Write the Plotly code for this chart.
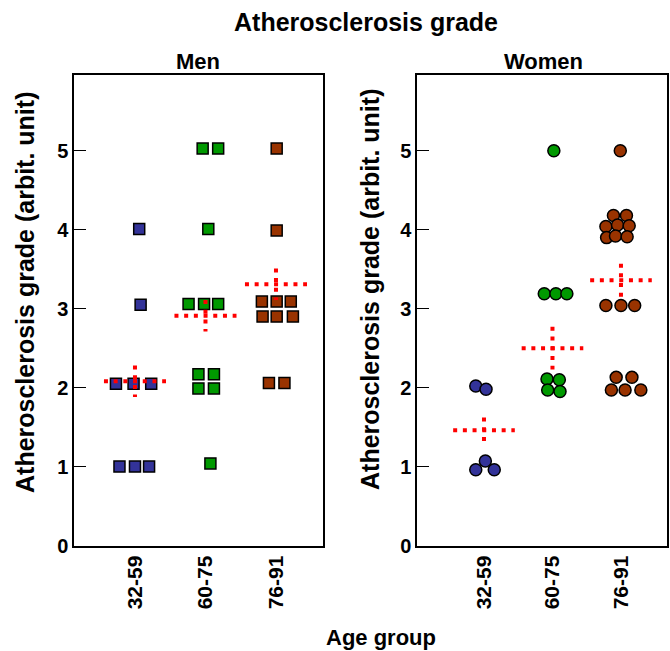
import plotly.graph_objects as go

W, H = 670, 651
HV = 640  # effective vertical extent observed in the rendered page

groups = ["32-59", "60-75", "76-91"]

# Men: grade values as read (swarm-displaced) and horizontal swarm offsets (category units)
men_y_g1 = [1.00, 1.00, 1.00, 2.05, 2.05, 2.05, 3.05, 4.01]
men_dx_g1 = [-0.22, 0.00, 0.20, -0.27, -0.02, 0.23, 0.08, 0.06]
men_y_g2 = [5.03, 5.03, 4.01, 3.06, 3.06, 3.06, 2.17, 2.17, 1.99, 1.99, 1.04]
men_dx_g2 = [-0.04, 0.18, 0.04, -0.24, -0.02, 0.18, -0.10, 0.12, -0.10, 0.12, 0.07]
men_y_g3 = [5.03, 3.99, 3.09, 3.09, 3.09, 2.90, 2.90, 2.90, 2.06, 2.06]
men_dx_g3 = [0.01, 0.01, -0.20, 0.01, 0.21, -0.19, 0.01, 0.24, -0.10, 0.12]

# Women
women_y_g1 = [2.02, 1.98, 1.07, 0.96, 0.96]
women_dx_g1 = [-0.12, 0.03, 0.02, -0.12, 0.15]
women_y_g2 = [5.00, 3.19, 3.19, 3.19, 2.11, 2.10, 1.97, 1.95]
women_dx_g2 = [0.02, -0.12, 0.05, 0.21, -0.08, 0.10, -0.07, 0.11]
women_y_g3 = [5.00, 4.18, 4.18, 4.04, 4.06, 4.05, 3.90, 3.92, 3.91,
              3.04, 3.04, 3.04, 2.13, 2.13, 1.97, 1.97, 1.97]
women_dx_g3 = [-0.01, -0.11, 0.08, -0.22, -0.05, 0.12, -0.21, -0.08, 0.09,
               -0.22, 0.00, 0.20, -0.07, 0.16, -0.14, 0.06, 0.29]

# Group means and error bars (vertical half-length of the cross)
men_means = [2.08, 2.91, 3.31]
men_err = [0.20, 0.20, 0.20]
women_means = [1.46, 2.50, 3.36]
women_err = [0.16, 0.27, 0.21]

colors = ["#333399", "#009900", "#993300"]
FONT = "Liberation Sans, Arial, sans-serif"
RED_DASH = "4px,5.7px"


def px(x):
    return x / W


def py(y):
    return 1 - y / HV


fig = go.Figure()

men_sets = [(men_y_g1, men_dx_g1), (men_y_g2, men_dx_g2), (men_y_g3, men_dx_g3)]
women_sets = [(women_y_g1, women_dx_g1), (women_y_g2, women_dx_g2), (women_y_g3, women_dx_g3)]

for gi, (ys, dxs) in enumerate(men_sets):
    fig.add_trace(go.Scatter(
        x=[gi + 1 + d for d in dxs], y=ys, mode="markers",
        marker=dict(symbol="square", size=11, color=colors[gi],
                    line=dict(color="black", width=1.5)),
        xaxis="x", yaxis="y", showlegend=False, hoverinfo="skip"))

for gi, (ys, dxs) in enumerate(women_sets):
    fig.add_trace(go.Scatter(
        x=[gi + 1 + d for d in dxs], y=ys, mode="markers",
        marker=dict(symbol="circle", size=12, color=colors[gi],
                    line=dict(color="black", width=1.5)),
        xaxis="x2", yaxis="y2", showlegend=False, hoverinfo="skip"))


def add_crosses(means, errs, xa, ya, hw):
    for gi, (m, e) in enumerate(zip(means, errs)):
        c = gi + 1
        fig.add_trace(go.Scatter(
            x=[c - hw, c + hw], y=[m, m], mode="lines",
            line=dict(color="#ff0000", width=4, dash=RED_DASH),
            xaxis=xa, yaxis=ya, showlegend=False, hoverinfo="skip"))
        fig.add_trace(go.Scatter(
            x=[c, c], y=[m + e, m - e], mode="lines",
            line=dict(color="#ff0000", width=4, dash=RED_DASH),
            xaxis=xa, yaxis=ya, showlegend=False, hoverinfo="skip"))


add_crosses(men_means, men_err, "x", "y", 0.44)
add_crosses(women_means, women_err, "x2", "y2", 0.45)

ydom = [py(545.5), py(75)]
common_x = dict(showgrid=False, zeroline=False, showline=True, mirror=True,
                linecolor="black", linewidth=1.5, ticks="",
                tickvals=[1, 2, 3], ticktext=groups, tickangle=-90,
                tickfont=dict(family=FONT, size=21, color="black", weight="bold"))
common_y = dict(showgrid=False, zeroline=False, showline=True, mirror=True,
                linecolor="black", linewidth=1.5, ticks="inside", ticklen=12,
                tickwidth=1.2, tickcolor="black", range=[0, 5.96],
                tickvals=[0, 1, 2, 3, 4, 5], domain=ydom,
                tickfont=dict(family=FONT, size=20, color="black", weight="bold"))

fig.update_layout(
    width=W, height=H, margin=dict(l=0, r=0, t=0, b=0),
    paper_bgcolor="white", plot_bgcolor="white",
    font=dict(family=FONT, color="black"),
    xaxis=dict(common_x, domain=[px(74), px(323)], range=[0.135, 3.667], anchor="y"),
    xaxis2=dict(common_x, domain=[px(417), px(667)], range=[0.022, 3.672], anchor="y2"),
    yaxis=dict(common_y, anchor="x"),
    yaxis2=dict(common_y, anchor="x2"),
)

ann_font = lambda s: dict(family=FONT, size=s, color="black", weight="bold")
annotations = [
    dict(text="Atherosclerosis grade", x=366, y=22, size=25, angle=0),
    dict(text="Men", x=197.5, y=61, size=22, angle=0),
    dict(text="Women", x=543, y=61, size=22, angle=0),
    dict(text="Atherosclerosis grade (arbit. unit)", x=25, y=293, size=25, angle=-90),
    dict(text="Atherosclerosis grade (arbit. unit)", x=370, y=290, size=25, angle=-90),
    dict(text="Age group", x=381, y=637, size=22, angle=0),
]
for a in annotations:
    fig.add_annotation(text=a["text"], x=px(a["x"]), y=py(a["y"]), xref="paper", yref="paper",
                       xanchor="center", yanchor="middle", showarrow=False,
                       textangle=a["angle"], font=ann_font(a["size"]))

fig.write_html("out.html", config={"displayModeBar": False},
               post_script="document.body.style.margin='0';")
